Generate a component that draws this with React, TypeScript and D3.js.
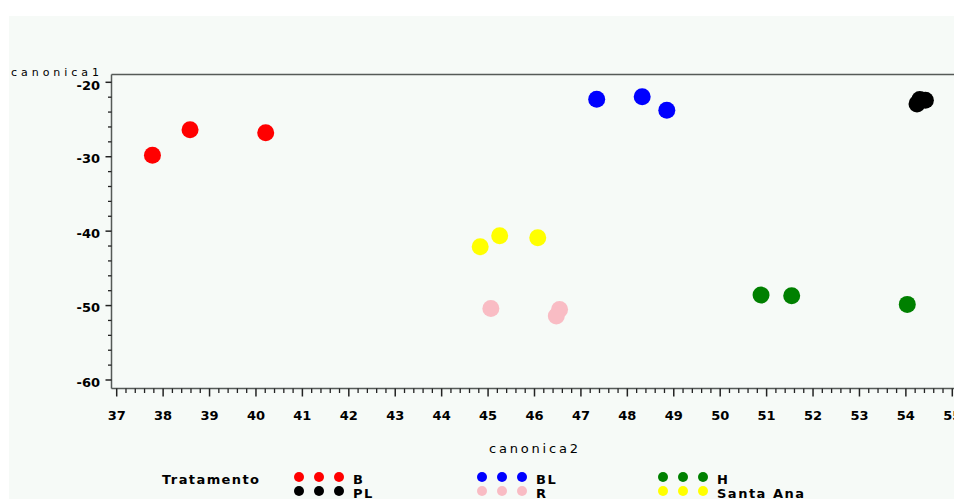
import React from "react";
import * as d3 from "d3";

const groups = ["B", "BL", "H", "PL", "R", "Santa Ana"];
const groupColors = ["#ff0000", "#0000ff", "#008000", "#000000", "#f9bcc4", "#ffff00"];

const xB = [37.77, 38.58, 40.21];
const yB = [-29.81, -26.37, -26.77];
const xBL = [47.34, 48.32, 48.85];
const yBL = [-22.28, -21.94, -23.76];
const xH = [50.88, 51.54, 54.03];
const yH = [-48.59, -48.68, -49.84];
const xPL = [54.24, 54.3, 54.42];
const yPL = [-22.9, -22.3, -22.4];
const xR = [45.06, 46.54, 46.47];
const yR = [-50.38, -50.54, -51.41];
const xSA = [44.83, 45.25, 46.07];
const ySA = [-42.1, -40.62, -40.89];

const seriesX = [xB, xBL, xH, xPL, xR, xSA];
const seriesY = [yB, yBL, yH, yPL, yR, ySA];

const xTicks = d3.range(37, 56, 1);
const yTicks = [-60, -50, -40, -30, -20];

export default function App() {
  const W = 954;
  const H = 499;
  const x = d3.scaleLinear().domain([37, 55]).range([116.7, 952.3]);
  const y = d3.scaleLinear().domain([-60, -20]).range([380, 82.3]);
  const axisLeft = 111.5;
  const axisTop = 74.5;
  const axisBottom = 388.5;
  const axisColor = "#555a57";
  const tickFont = "'DejaVu Sans', sans-serif";

  const xMinor: number[] = [];
  for (let v = 37; v < 55.01; v += 0.2) {
    const r = Math.round(v * 10) / 10;
    if (Math.abs(r - Math.round(r)) > 0.01) xMinor.push(r);
  }
  const yMinor: number[] = [];
  for (let v = -60; v <= -20.01; v += 2) {
    const r = Math.round(v);
    if (r % 10 !== 0) yMinor.push(r);
  }

  const legendRows = [
    { y: 479, items: [0, 1, 2] },
    { y: 493, items: [3, 4, 5] },
  ];
  const legendCols = [299, 482, 663];

  return (
    <svg
      width={W}
      height={H}
      style={{ position: "absolute", left: 0, top: 0, background: "#ffffff" }}
    >
      <rect x={9} y={16} width={W - 9} height={H - 16} fill="#f6faf7" />
      {/* frame */}
      <line x1={axisLeft} y1={axisTop} x2={W + 5} y2={axisTop} stroke={axisColor} strokeWidth={1.5} />
      <line x1={axisLeft} y1={axisTop} x2={axisLeft} y2={axisBottom} stroke={axisColor} strokeWidth={1.5} />
      <line x1={axisLeft} y1={axisBottom} x2={W + 5} y2={axisBottom} stroke={axisColor} strokeWidth={1.5} />

      {/* y ticks */}
      {yTicks.map((t) => (
        <g key={"yt" + t}>
          <line x1={axisLeft - 6} x2={axisLeft} y1={y(t)} y2={y(t)} stroke="#222" strokeWidth={1.5} />
          <text
            x={100}
            y={y(t) + (t === -20 ? 7.5 : 6.5)}
            textAnchor="end"
            fontFamily={tickFont}
            fontWeight="bold"
            fontSize={13}
            fill="#000"
          >
            {t}
          </text>
        </g>
      ))}
      {yMinor.map((t) => (
        <line key={"ym" + t} x1={axisLeft - 3.5} x2={axisLeft} y1={y(t)} y2={y(t)} stroke="#222" strokeWidth={1.3} />
      ))}

      {/* x ticks */}
      {xTicks.map((t) => (
        <g key={"xt" + t}>
          <line x1={x(t)} x2={x(t)} y1={axisBottom} y2={axisBottom + 8} stroke="#222" strokeWidth={1.5} />
          <text
            x={x(t)}
            y={420}
            textAnchor="middle"
            fontFamily={tickFont}
            fontWeight="bold"
            fontSize={13}
            fill="#000"
          >
            {t}
          </text>
        </g>
      ))}
      {xMinor.map((t) => (
        <line key={"xm" + t} x1={x(t)} x2={x(t)} y1={axisBottom} y2={axisBottom + 4.5} stroke="#222" strokeWidth={1.3} />
      ))}

      {/* axis labels */}
      <text x={11} y={75.5} fontFamily={tickFont} fontSize={11} fill="#000" textLength={88} lengthAdjust="spacing">
        canonica1
      </text>
      <text x={489} y={453} fontFamily={tickFont} fontSize={13} fill="#000" textLength={89} lengthAdjust="spacing">
        canonica2
      </text>

      {/* points */}
      {seriesX.map((xs, gi) =>
        xs.map((xv, i) => (
          <circle
            key={"p" + gi + "-" + i}
            cx={x(xv)}
            cy={y(seriesY[gi][i])}
            r={8.5}
            fill={groupColors[gi]}
          />
        ))
      )}

      {/* legend */}
      <text x={162} y={484} fontFamily={tickFont} fontWeight="bold" fontSize={13} fill="#000" textLength={97} lengthAdjust="spacing">
        Tratamento
      </text>
      {legendRows.map((row, ri) =>
        row.items.map((gi, ci) => (
          <g key={"lg" + ri + "-" + ci}>
            {[0, 1, 2].map((k) => (
              <circle
                key={k}
                cx={legendCols[ci] + k * 20}
                cy={row.y - 2}
                r={5}
                fill={groupColors[gi]}
              />
            ))}
            <text
              x={legendCols[ci] + 54}
              y={row.y + 5}
              fontFamily={tickFont}
              fontWeight="bold"
              fontSize={13}
              fill="#000"
              letterSpacing={1.5}
            >
              {groups[gi]}
            </text>
          </g>
        ))
      )}
    </svg>
  );
}
